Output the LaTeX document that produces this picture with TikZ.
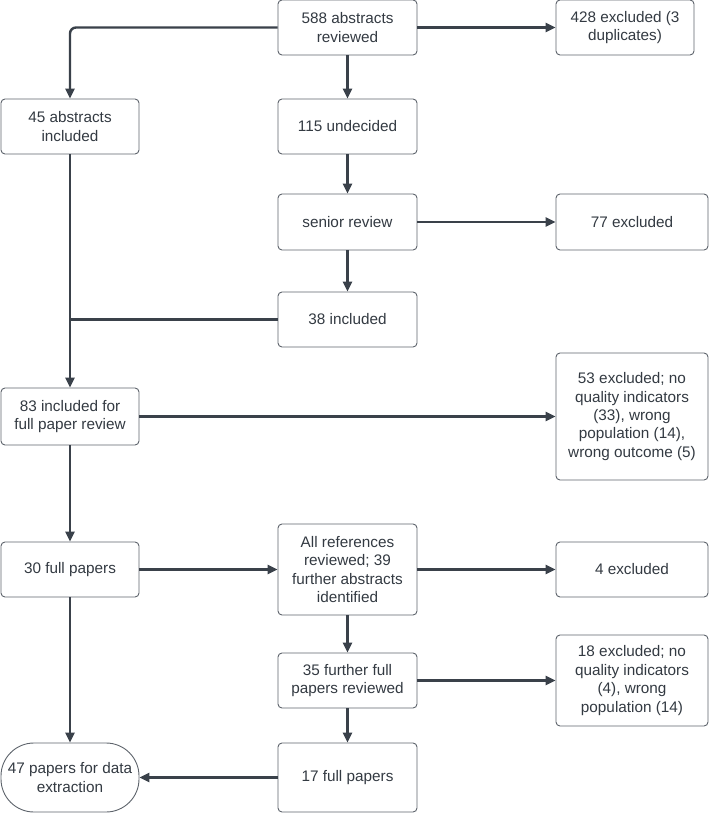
\documentclass[tikz,border=0pt]{standalone}
\usepackage{fontspec}
\setmainfont{Liberation Sans}
\usetikzlibrary{arrows.meta}
\definecolor{linec}{HTML}{3A414A}
\definecolor{borderc}{HTML}{5E646C}
\definecolor{textc}{HTML}{333A42}
\begin{document}
\begin{tikzpicture}[x=1pt,y=-1pt,
  box/.style={draw=borderc, line width=0.9pt, rounded corners=4pt, fill=white,
    inner sep=0pt, align=center, text=textc,
    font=\fontsize{15.3}{18.4}\selectfont},
  arr/.style={draw=linec, line width=2.4pt, -{Triangle[length=10pt,width=9pt]}},
  plain/.style={draw=linec, line width=2.4pt}
]
\useasboundingbox[fill=white] (0,0) rectangle (709,813);
% top row
\node[box, minimum width=139pt, minimum height=55pt] (n588) at (347.5,27.5) {588 abstracts\\reviewed};
\node[box, minimum width=138pt, minimum height=55pt] (n428) at (625,27.5) {428 excluded (3\\duplicates)};
% row 2
\node[box, minimum width=138pt, minimum height=55pt] (n45) at (70,126.5) {45 abstracts\\included};
\node[box, minimum width=139pt, minimum height=55pt] (n115) at (347.5,126.5) {115 undecided};
% row 3
\node[box, minimum width=139pt, minimum height=56pt] (nsen) at (347.5,222) {senior review};
\node[box, minimum width=152pt, minimum height=56pt] (n77) at (632,222) {77 excluded};
% row 4
\node[box, minimum width=139pt, minimum height=55pt] (n38) at (347.5,319.5) {38 included};
% row 5
\node[box, minimum width=138pt, minimum height=57pt] (n83) at (70,416.5) {83 included for\\full paper review};
\node[box, minimum width=152pt, minimum height=127pt] (n53) at (632,416.5) {53 excluded; no\\quality indicators\\(33), wrong\\population (14),\\wrong outcome (5)};
% row 6
\node[box, minimum width=138pt, minimum height=55pt] (n30) at (70,569.5) {30 full papers};
\node[box, minimum width=139pt, minimum height=91pt] (nall) at (347.5,569.5) {All references\\reviewed; 39\\further abstracts\\identified};
\node[box, minimum width=152pt, minimum height=55pt] (n4) at (632,569.5) {4 excluded};
% row 7
\node[box, minimum width=139pt, minimum height=55pt] (n35) at (347.5,680.5) {35 further full\\papers reviewed};
\node[box, minimum width=152pt, minimum height=91pt] (n18) at (632,680.5) {18 excluded; no\\quality indicators\\(4), wrong\\population (14)};
% row 8
\node[box, minimum width=139pt, minimum height=69pt] (n17) at (347.5,777.5) {17 full papers};
\node[box, rounded corners=33pt, minimum width=138pt, minimum height=69pt] (n47) at (70,777.5) {47 papers for data\\extraction};
% connectors
\draw[arr] (n588.east) -- (n428.west);
\draw[arr, rounded corners=6pt] (n588.west) -| (n45.north);
\draw[arr] (n588.south) -- (n115.north);
\draw[arr] (n115.south) -- (nsen.north);
\draw[arr] (nsen.east) -- (n77.west);
\draw[arr] (nsen.south) -- (n38.north);
\draw[arr] (n45.south) -- (n83.north);
\coordinate (join) at (n38.west -| n45.south);
\draw[plain] (n38.west) -- (join);
\draw[arr] (n83.east) -- (n53.west);
\draw[arr] (n83.south) -- (n30.north);
\draw[arr] (n30.east) -- (nall.west);
\draw[arr] (nall.east) -- (n4.west);
\draw[arr] (nall.south) -- (n35.north);
\draw[arr] (n35.east) -- (n18.west);
\draw[arr] (n35.south) -- (n17.north);
\draw[arr] (n17.west) -- (n47.east);
\draw[arr] (n30.south) -- (n47.north);
\end{tikzpicture}
\end{document}
